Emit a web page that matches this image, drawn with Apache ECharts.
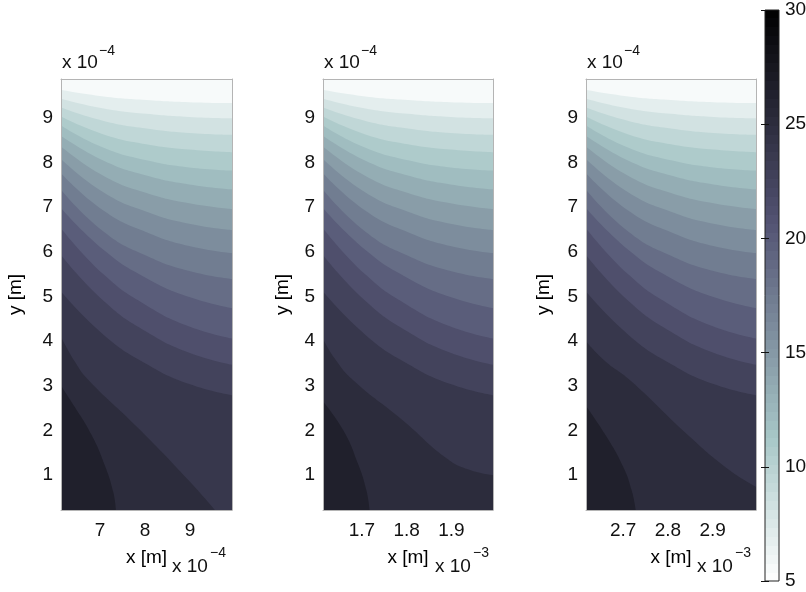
<!DOCTYPE html>
<html>
<head>
<meta charset="utf-8">
<script src="https://cdn.jsdelivr.net/npm/echarts@6.0.0/dist/echarts.min.js"></script>
<style>
  html, body { margin: 0; padding: 0; background: #fff; }
  #chart { width: 806px; height: 592px; }
</style>
</head>
<body>
<div id="chart"></div>
<script>
// contour levels (lower bound of each filled band) and the value of the top band
const levels = [6.9, 8.2, 9.5, 10.8, 12.1, 13.4, 14.7, 16.0, 17.3, 18.6, 19.9, 21.2, 22.5, 23.8, 25.1, 26.4]
const topBandValue = 5.6

// axis ranges (x in units of the multiplier shown under each panel, y in 1e-4 m)
const yRange = [0.22, 9.87]
const xRange1 = [6.13, 9.93]
const xRange2 = [1.613, 1.993]
const xRange3 = [2.617, 2.997]

const yTicks = [1, 2, 3, 4, 5, 6, 7, 8, 9]
const xTicks1 = [7, 8, 9]
const xTicks2 = [1.7, 1.8, 1.9]
const xTicks3 = [2.7, 2.8, 2.9]
const cbTicks = [5, 10, 15, 20, 25, 30]
const cbRange = [5, 30]

// x positions where the upper contour lines were read, one set per panel
const xs1 = [6.13, 7.08, 8.03, 8.98, 9.93]
const xs2 = [1.613, 1.708, 1.803, 1.898, 1.993]
const xs3 = [2.617, 2.712, 2.807, 2.902, 2.997]

// upper contour lines (left edge -> right edge), same in all three panels
const upperCurvesY = [
  [9.63, 9.48, 9.40, 9.35, 9.33],
  [9.43, 9.21, 9.09, 9.02, 8.99],
  [9.23, 8.93, 8.76, 8.66, 8.62],
  [9.03, 8.63, 8.41, 8.29, 8.23],
  [8.83, 8.33, 8.05, 7.89, 7.82],
  [8.60, 8.04, 7.71, 7.51, 7.40],
  [8.36, 7.70, 7.32, 7.09, 6.96],
  [8.08, 7.33, 6.90, 6.63, 6.49],
  [7.76, 6.92, 6.44, 6.13, 5.97],
  [7.39, 6.45, 5.91, 5.57, 5.39],
  [6.98, 6.04, 5.41, 4.99, 4.74],
  [6.53, 5.49, 4.80, 4.33, 4.06],
  [5.93, 4.90, 4.21, 3.74, 3.47],
  [5.11, 4.14, 3.49, 3.04, 2.79]
]

// lower contour lines near the bottom-left corner, per panel
const lower1a = [[6.13, 4.10], [6.44, 3.54], [6.74, 3.13], [7.85, 2.05], [8.96, 0.89], [9.55, 0.22]]
const lower1b = [[6.13, 3.00], [6.44, 2.52], [6.81, 1.90], [7.10, 1.23], [7.29, 0.63], [7.35, 0.22]]
const lower2a = [[1.613, 4.05], [1.640, 3.60], [1.680, 3.13], [1.791, 2.23], [1.889, 1.38], [1.940, 1.12], [1.993, 1.00]]
const lower2b = [[1.613, 2.65], [1.658, 2.01], [1.691, 1.26], [1.710, 0.66], [1.717, 0.22]]
const lower3a = [[2.617, 4.00], [2.660, 3.55], [2.715, 3.13], [2.849, 1.86], [2.938, 1.11], [2.997, 0.74]]
const lower3b = [[2.617, 2.55], [2.663, 1.86], [2.700, 1.19], [2.719, 0.66], [2.728, 0.22]]

// MATLAB "bone" colormap, flipped so that low values are white
function boneColor(v) {
  const t = Math.min(1, Math.max(0, (30 - v) / 25))
  const hr = Math.min(1, t * 8 / 3)
  const hg = Math.min(1, Math.max(0, (t - 3 / 8) * 8 / 3))
  const hb = Math.min(1, Math.max(0, (t - 3 / 4) * 4))
  const r = (7 * t + hb) / 8
  const g = (7 * t + hg) / 8
  const b = (7 * t + hr) / 8
  return 'rgb(' + Math.round(r * 255) + ',' + Math.round(g * 255) + ',' + Math.round(b * 255) + ')'
}

const font = 'Liberation Sans, Arial, sans-serif'
const frameColor = '#b4b4b4'

const panels = [
  { left: 61, right: 574, xRange: xRange1, xs: xs1, xTicks: xTicks1, lower: [lower1a, lower1b], exp: '\u22124', nameGap: 36, expLeft: 172 },
  { left: 323, right: 313, xRange: xRange2, xs: xs2, xTicks: xTicks2, lower: [lower2a, lower2b], exp: '\u22123', nameGap: 31, expLeft: 435 },
  { left: 586, right: 50, xRange: xRange3, xs: xs3, xTicks: xTicks3, lower: [lower3a, lower3b], exp: '\u22123', nameGap: 33, expLeft: 697 }
]

const grid = []
const xAxis = []
const yAxis = []
const series = []
const graphic = []

panels.forEach(function(p, i) {
  grid.push({
    left: p.left, right: p.right, top: 79, bottom: 82,
    show: true, backgroundColor: boneColor(topBandValue), borderWidth: 0,
    containLabel: false, outerBoundsMode: 'none'
  })
  xAxis.push({
    type: 'value', gridIndex: i, position: 'bottom', min: p.xRange[0], max: p.xRange[1], z: 5,
    name: 'x [m]', nameLocation: 'middle', nameGap: 38,
    nameTextStyle: { fontFamily: font, fontSize: 19, color: '#000' },
    axisLine: { show: true, lineStyle: { color: frameColor, width: 1 } },
    axisTick: { show: false },
    splitLine: { show: false },
    axisLabel: { customValues: p.xTicks, margin: 11, fontFamily: font, fontSize: 19, color: '#111' }
  })
  xAxis.push({
    type: 'value', gridIndex: i, position: 'top', min: p.xRange[0], max: p.xRange[1], z: 5,
    axisLine: { show: true, lineStyle: { color: frameColor, width: 1 } },
    axisTick: { show: false }, axisLabel: { show: false }, splitLine: { show: false }
  })
  yAxis.push({
    type: 'value', gridIndex: i, position: 'left', min: yRange[0], max: yRange[1], z: 5,
    name: 'y [m]', nameLocation: 'middle', nameGap: p.nameGap,
    nameTextStyle: { fontFamily: font, fontSize: 19, color: '#000' },
    axisLine: { show: true, lineStyle: { color: frameColor, width: 1 } },
    axisTick: { show: false },
    splitLine: { show: false },
    axisLabel: { customValues: yTicks, margin: 8, fontFamily: font, fontSize: 19, color: '#111' }
  })
  yAxis.push({
    type: 'value', gridIndex: i, position: 'right', min: yRange[0], max: yRange[1], z: 5,
    axisLine: { show: true, lineStyle: { color: frameColor, width: 1 } },
    axisTick: { show: false }, axisLabel: { show: false }, splitLine: { show: false }
  })

  const curves = upperCurvesY.map(function(ys) {
    return ys.map(function(y, k) { return [p.xs[k], y] })
  }).concat(p.lower)

  curves.forEach(function(pts, j) {
    series.push({
      type: 'line',
      xAxisIndex: i * 2,
      yAxisIndex: i * 2,
      data: pts,
      smooth: 0.5,
      showSymbol: false,
      silent: true,
      lineStyle: { width: 0, color: boneColor(levels[j]) },
      areaStyle: { color: boneColor(levels[j]), opacity: 1, origin: 'start' }
    })
  })

  // multiplier labels: above the y axis and under the x axis
  graphic.push({ type: 'text', left: p.left + 1, top: 53, style: { text: 'x 10', font: '19px ' + font, fill: '#111' } })
  graphic.push({ type: 'text', left: p.left + 38, top: 44, style: { text: '\u22124', font: '14px ' + font, fill: '#111' } })
  graphic.push({ type: 'text', left: p.expLeft, top: 557, style: { text: 'x 10', font: '19px ' + font, fill: '#111' } })
  graphic.push({ type: 'text', left: p.expLeft + 38, top: 546, style: { text: p.exp, font: '14px ' + font, fill: '#111' } })
})

// colorbar
grid.push({ left: 765, width: 14, top: 10, height: 571, show: false, containLabel: false, outerBoundsMode: 'none' })
xAxis.push({ type: 'value', gridIndex: 3, min: 0, max: 1, show: false })
yAxis.push({
  type: 'value', gridIndex: 3, position: 'right', min: cbRange[0], max: cbRange[1], z: 5,
  axisLine: { show: false }, splitLine: { show: false },
  axisTick: { show: true, inside: true, length: 4, customValues: cbTicks, lineStyle: { color: '#111' } },
  axisLabel: { customValues: cbTicks, margin: 6, fontFamily: font, fontSize: 19, color: '#111' }
})
yAxis.push({
  type: 'value', gridIndex: 3, position: 'left', min: cbRange[0], max: cbRange[1], z: 5,
  axisLine: { show: false }, splitLine: { show: false }, axisLabel: { show: false },
  axisTick: { show: true, inside: true, length: 4, customValues: cbTicks, lineStyle: { color: '#111' } }
})

const cbStops = []
const steps = 64
for (let k = 0; k < steps; k++) {
  const c = boneColor(cbRange[1] - (k + 0.5) * (cbRange[1] - cbRange[0]) / steps)
  cbStops.push({ offset: k / steps, color: c })
  cbStops.push({ offset: (k + 1) / steps, color: c })
}

series.push({
  type: 'custom',
  xAxisIndex: 6,
  yAxisIndex: 6,
  silent: true,
  data: [[0, cbRange[0], 1, cbRange[1]]],
  renderItem: function(params, api) {
    const p0 = api.coord([api.value(0), api.value(3)])
    const p1 = api.coord([api.value(2), api.value(1)])
    return {
      type: 'rect',
      shape: { x: p0[0], y: p0[1], width: p1[0] - p0[0], height: p1[1] - p0[1] },
      style: {
        fill: new echarts.graphic.LinearGradient(0, 0, 0, 1, cbStops),
        stroke: '#222',
        lineWidth: 1
      }
    }
  }
})

const chart = echarts.init(document.getElementById('chart'))
chart.setOption({
  backgroundColor: '#fff',
  animation: false,
  grid: grid,
  xAxis: xAxis,
  yAxis: yAxis,
  series: series,
  graphic: graphic
})
</script>
</body>
</html>
